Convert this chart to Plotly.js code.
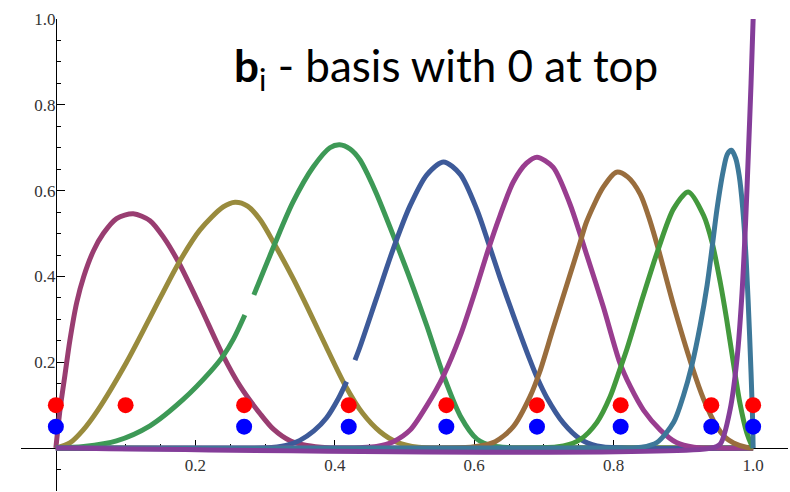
<!DOCTYPE html>
<html>
<head>
<meta charset="utf-8">
<script src="https://cdn.plot.ly/plotly-3.0.1.min.js"></script>
<style>
html,body{margin:0;padding:0;background:#fff;}
#chart{width:790px;height:492px;}
</style>
</head>
<body>
<div id="chart"></div>
<script>
// Basis curves (x, y)
const b1_x = [0, 0.006, 0.013, 0.02, 0.03, 0.04, 0.054, 0.068, 0.087, 0.111, 0.135, 0.155, 0.176, 0.207, 0.240, 0.264, 0.293, 0.312, 0.336, 0.36, 0.39, 0.42, 1];
const b1_y = [0, 0.09, 0.17, 0.25, 0.34, 0.40, 0.46, 0.50, 0.535, 0.546, 0.53, 0.49, 0.433, 0.33, 0.215, 0.145, 0.08, 0.044, 0.017, 0.006, 0.001, 0, 0];

const b2_x = [0, 0.02, 0.039, 0.06, 0.101, 0.135, 0.176, 0.207, 0.240, 0.257, 0.275, 0.293, 0.314, 0.340, 0.364, 0.388, 0.415, 0.44, 0.465, 0.49, 0.52, 0.56, 1];
const b2_y = [0, 0.012, 0.042, 0.088, 0.199, 0.304, 0.431, 0.509, 0.562, 0.573, 0.564, 0.532, 0.474, 0.396, 0.317, 0.235, 0.146, 0.081, 0.038, 0.013, 0.002, 0, 0];

const b3_x = [0, 0.04, 0.087, 0.135, 0.183, 0.221, 0.240, 0.255, 0.271, null, 0.284, 0.314, 0.340, 0.369, 0.393, 0.407, 0.422, 0.436, 0.448, 0.460, 0.484, 0.508, 0.532, 0.556, 0.580, 0.604, 0.627, 0.65, 0.69, 1];
const b3_y = [0, 0.004, 0.017, 0.052, 0.114, 0.177, 0.215, 0.255, 0.31, null, 0.357, 0.476, 0.573, 0.655, 0.700, 0.707, 0.697, 0.672, 0.635, 0.592, 0.495, 0.394, 0.285, 0.169, 0.075, 0.021, 0.005, 0.001, 0, 0];

const b4_x = [0, 0.30, 0.33, 0.350, 0.370, 0.388, 0.405, 0.417, null, 0.429, 0.436, 0.460, 0.484, 0.508, 0.532, 0.556, 0.580, 0.604, 0.620, 0.637, 0.656, 0.680, 0.690, 0.704, 0.728, 0.752, 0.776, 0.81, 1];
const b4_y = [0, 0, 0.006, 0.018, 0.04, 0.07, 0.115, 0.155, null, 0.205, 0.235, 0.35, 0.465, 0.565, 0.637, 0.667, 0.638, 0.555, 0.48, 0.397, 0.31, 0.205, 0.165, 0.118, 0.058, 0.021, 0.005, 0, 0];

const b5_x = [0, 0.42, 0.436, 0.46, 0.484, 0.508, 0.532, 0.556, 0.580, 0.604, 0.620, 0.637, 0.656, 0.675, 0.690, 0.713, 0.737, 0.752, 0.761, 0.785, 0.809, 0.824, 0.843, 0.867, 0.89, 0.915, 0.94, 1];
const b5_y = [0, 0, 0.001, 0.004, 0.015, 0.042, 0.099, 0.169, 0.262, 0.379, 0.462, 0.542, 0.62, 0.664, 0.678, 0.655, 0.57, 0.498, 0.452, 0.33, 0.198, 0.143, 0.088, 0.042, 0.013, 0.002, 0, 0];

const b6_x = [0, 0.56, 0.6, 0.63, 0.656, 0.680, 0.694, 0.713, 0.737, 0.752, 0.761, 0.785, 0.804, 0.82, 0.838, 0.85, 0.864, 0.886, 0.912, 0.929, 0.948, 0.96, 0.972, 0.99, 1];
const b6_y = [0, 0, 0.003, 0.015, 0.05, 0.12, 0.178, 0.278, 0.402, 0.48, 0.527, 0.608, 0.643, 0.632, 0.592, 0.54, 0.464, 0.332, 0.192, 0.114, 0.05, 0.025, 0.012, 0.002, 0];

const b7_x = [0, 0.69, 0.728, 0.752, 0.776, 0.795, 0.809, 0.819, 0.838, 0.864, 0.886, 0.907, 0.929, 0.941, 0.953, 0.962, 0.972, 0.981, 0.991, 0.998, 1];
const b7_y = [0, 0, 0.005, 0.02, 0.06, 0.12, 0.184, 0.231, 0.332, 0.464, 0.558, 0.597, 0.542, 0.48, 0.385, 0.30, 0.195, 0.105, 0.035, 0.006, 0];

const b8_x = [0, 0.81, 0.84, 0.862, 0.886, 0.900, 0.912, 0.924, 0.934, 0.941, 0.948, 0.957, 0.963, 0.969, 0.975, 0.98, 0.985, 0.99, 0.995, 0.999, 1.0];
const b8_y = [0, 0, 0.002, 0.013, 0.060, 0.122, 0.192, 0.285, 0.38, 0.465, 0.555, 0.645, 0.685, 0.694, 0.675, 0.635, 0.56, 0.44, 0.26, 0.08, 0];

const b9_x = [0, 0.94, 0.953, 0.967, 0.977, 0.984, 0.989, 0.993, 0.997, 1.0];
const b9_y = [0, 0, 0.01, 0.09, 0.21, 0.36, 0.52, 0.68, 0.85, 1.0];

// Knot markers
const red_x = [0, 0.1, 0.27, 0.42, 0.56, 0.69, 0.81, 0.94, 1.0];
const red_y = [0.1, 0.1, 0.1, 0.1, 0.1, 0.1, 0.1, 0.1, 0.1];
const blue_x = [0, 0.27, 0.42, 0.56, 0.69, 0.81, 0.94, 1.0];
const blue_y = [0.05, 0.05, 0.05, 0.05, 0.05, 0.05, 0.05, 0.05];

// Tick labels
const tick_vals = [0.2, 0.4, 0.6, 0.8, 1.0];
const tick_text = ['0.2', '0.4', '0.6', '0.8', '1.0'];

const curveX = [b1_x, b2_x, b3_x, b4_x, b5_x, b6_x, b7_x, b8_x, b9_x];
const curveY = [b1_y, b2_y, b3_y, b4_y, b5_y, b6_y, b7_y, b8_y, b9_y];
const colors = ['#993D71', '#998B3D', '#3D9956', '#3D5A99', '#993D8F', '#996D3D', '#43993D', '#3D7899', '#843D99'];

const traces = curveX.map((xs, i) => ({
  x: xs, y: curveY[i], type: 'scatter', mode: 'lines',
  line: {color: colors[i], width: 5, shape: 'spline', smoothing: 0.8},
  connectgaps: false, hoverinfo: 'skip', cliponaxis: false
}));
traces.push({x: red_x, y: red_y, type: 'scatter', mode: 'markers',
  marker: {color: '#ff0000', size: 16}, cliponaxis: false});
traces.push({x: blue_x, y: blue_y, type: 'scatter', mode: 'markers',
  marker: {color: '#0000ff', size: 16}, cliponaxis: false});

function mkAxis(pos, range, standoff) {
  return {
    range: range, anchor: 'free', position: pos,
    showgrid: false, zeroline: false, showline: true, linecolor: '#000', linewidth: 1,
    tickmode: 'array', tickvals: tick_vals, ticktext: tick_text,
    ticks: 'inside', ticklen: 8, tickwidth: 1, tickcolor: '#000',
    tickfont: {family: 'Liberation Serif', size: 17, color: '#333'},
    ticklabelstandoff: standoff,
    minor: {ticks: 'inside', ticklen: 4.5, tickwidth: 1, tickcolor: '#000', tickmode: 'linear', tick0: 0, dtick: 0.05},
    layer: 'below traces'
  };
}

const layout = {
  width: 790, height: 492,
  margin: {l: 21, r: 2, t: 19, b: 1},
  paper_bgcolor: '#fff', plot_bgcolor: '#fff',
  font: {family: 'Liberation Serif', size: 17, color: '#333'},
  showlegend: false,
  xaxis: mkAxis(0.1/1.1, [-0.05, 1.05], 2),
  yaxis: mkAxis(0.05/1.1, [-0.1, 1.0], -3),
  annotations: [{
    text: '<b>b</b><sub>i</sub> - basis with 0 at top',
    xref: 'x', yref: 'y', x: 0.252, y: 0.885,
    xanchor: 'left', yanchor: 'middle', showarrow: false,
    font: {family: 'Lato', size: 44, color: '#000'}
  }]
};

Plotly.newPlot('chart', traces, layout, {displayModeBar: false, staticPlot: true});
</script>
</body>
</html>
